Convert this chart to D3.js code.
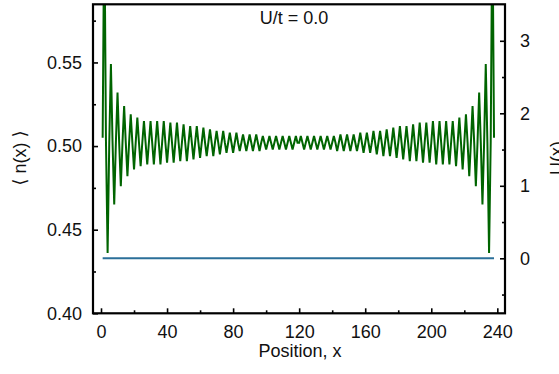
<!DOCTYPE html>
<html>
<head>
<meta charset="utf-8">
<script src="https://cdn.jsdelivr.net/npm/d3@7"></script>
<style>
  html, body { margin: 0; padding: 0; background: #fff; }
  svg { display: block; }
  text { font-family: "Liberation Sans", Arial, Helvetica, sans-serif; }
</style>
</head>
<body>
<svg id="chart" width="559" height="374"></svg>
<script>
// Site-resolved density <n(x)> on a 238-site open chain, U/t = 0
const siteCount = 238;
const density = [
  0.505, 0.642, 0.503, 0.436, 0.502, 0.549, 0.502, 0.465, 0.502, 0.532,
  0.502, 0.476, 0.502, 0.524, 0.502, 0.482, 0.502, 0.519, 0.502, 0.486,
  0.502, 0.517, 0.502, 0.488, 0.502, 0.515, 0.502, 0.489, 0.502, 0.515,
  0.502, 0.489, 0.502, 0.515, 0.502, 0.489, 0.502, 0.515, 0.502, 0.490,
  0.502, 0.514, 0.502, 0.490, 0.502, 0.514, 0.502, 0.491, 0.502, 0.513,
  0.502, 0.491, 0.502, 0.512, 0.502, 0.492, 0.502, 0.512, 0.502, 0.493,
  0.502, 0.511, 0.502, 0.494, 0.502, 0.510, 0.502, 0.494, 0.502, 0.509,
  0.502, 0.495, 0.502, 0.509, 0.502, 0.496, 0.502, 0.508, 0.502, 0.496,
  0.502, 0.508, 0.502, 0.497, 0.502, 0.507, 0.502, 0.497, 0.502, 0.507,
  0.502, 0.497, 0.502, 0.507, 0.502, 0.497, 0.502, 0.506, 0.502, 0.498,
  0.502, 0.506, 0.502, 0.498, 0.502, 0.506, 0.502, 0.498, 0.502, 0.506,
  0.502, 0.498, 0.502, 0.506, 0.502, 0.498, 0.502, 0.506, 0.502,
  0.502, 0.506, 0.502, 0.498, 0.502, 0.506, 0.502, 0.498, 0.502, 0.506,
  0.502, 0.498, 0.502, 0.506, 0.502, 0.498, 0.502, 0.506, 0.502, 0.498,
  0.502, 0.506, 0.502, 0.497, 0.502, 0.507, 0.502, 0.497, 0.502, 0.507,
  0.502, 0.497, 0.502, 0.507, 0.502, 0.497, 0.502, 0.508, 0.502, 0.496,
  0.502, 0.508, 0.502, 0.496, 0.502, 0.509, 0.502, 0.495, 0.502, 0.509,
  0.502, 0.494, 0.502, 0.510, 0.502, 0.494, 0.502, 0.511, 0.502, 0.493,
  0.502, 0.512, 0.502, 0.492, 0.502, 0.512, 0.502, 0.491, 0.502, 0.513,
  0.502, 0.491, 0.502, 0.514, 0.502, 0.490, 0.502, 0.514, 0.502, 0.490,
  0.502, 0.515, 0.502, 0.489, 0.502, 0.515, 0.502, 0.489, 0.502, 0.515,
  0.502, 0.489, 0.502, 0.515, 0.502, 0.488, 0.502, 0.517, 0.502, 0.486,
  0.502, 0.519, 0.502, 0.482, 0.502, 0.524, 0.502, 0.476, 0.502, 0.532,
  0.502, 0.465, 0.502, 0.549, 0.502, 0.436, 0.503, 0.642, 0.505
];
// External potential U(x): flat (zero) across the chain
const potentialX = [1, 238];
const potentialU = [0, 0];

// Axis ticks
const xTicks = [0, 40, 80, 120, 160, 200, 240];
const xMinorTicks = [20, 60, 100, 140, 180, 220];
const nTicks = [0.40, 0.45, 0.50, 0.55];
const nMinorTicks = [0.425, 0.475, 0.525, 0.575];
const uTicks = [0, 1, 2, 3];
const uMinorTicks = [-0.5, 0.5, 1.5, 2.5];

const title = "U/t = 0.0";
const xLabel = "Position, x";
const nLabel = "\u27E8 n(x) \u27E9";
const uLabel = "U(x)";

const frameLeft = 93, frameRight = 505, frameTop = 4.3, frameBottom = 313.3;
const fontSize = 18;

const svg = d3.select("#chart");

const x = d3.scaleLinear().domain([-4.85, 244.65]).range([frameLeft, frameRight]);
const yN = d3.scaleLinear().domain([0.40, 0.58477]).range([frameBottom, frameTop]);
const yU = d3.scaleLinear().domain([-0.7586, 3.5034]).range([frameBottom, frameTop]);

svg.append("defs").append("clipPath").attr("id", "plot-clip")
  .append("rect").attr("x", frameLeft).attr("y", frameTop)
  .attr("width", frameRight - frameLeft).attr("height", frameBottom - frameTop);

const plot = svg.append("g").attr("clip-path", "url(#plot-clip)");

// Potential (right axis)
const uPts = potentialX.map((d, i) => [d, potentialU[i]]);
plot.append("path")
  .datum(uPts)
  .attr("fill", "none")
  .attr("stroke", "#2b6f99")
  .attr("stroke-width", 2)
  .attr("d", d3.line().x(d => x(d[0])).y(d => yU(d[1])));

// Density (left axis)
const sites = d3.range(1, siteCount + 1);
plot.append("path")
  .datum(sites.map((s, i) => [s, density[i]]))
  .attr("fill", "none")
  .attr("stroke", "#006400")
  .attr("stroke-width", 2)
  .attr("stroke-linejoin", "miter")
  .attr("d", d3.line().x(d => x(d[0])).y(d => yN(d[1])));

function styleAxis(g) {
  g.select(".domain").remove();
  g.selectAll(".tick line").attr("stroke", "#000").attr("stroke-width", 1.6);
  g.selectAll(".tick text")
    .attr("fill", "#111")
    .style("font-size", fontSize + "px")
    .style("font-family", "'Liberation Sans', Arial, Helvetica, sans-serif");
}

// Bottom axis
svg.append("g").attr("transform", `translate(0,${frameBottom})`)
  .call(d3.axisBottom(x).tickValues(xTicks).tickFormat(d3.format("d"))
    .tickSizeInner(-5).tickSizeOuter(0).tickPadding(12))
  .call(styleAxis);
svg.append("g").attr("transform", `translate(0,${frameBottom})`)
  .call(d3.axisBottom(x).tickValues(xMinorTicks).tickFormat("")
    .tickSizeInner(-3).tickSizeOuter(0))
  .call(styleAxis);

// Left axis
svg.append("g").attr("transform", `translate(${frameLeft},0)`)
  .call(d3.axisLeft(yN).tickValues(nTicks).tickFormat(d3.format(".2f"))
    .tickSizeInner(-5).tickSizeOuter(0).tickPadding(11))
  .call(styleAxis);
svg.append("g").attr("transform", `translate(${frameLeft},0)`)
  .call(d3.axisLeft(yN).tickValues(nMinorTicks).tickFormat("")
    .tickSizeInner(-3).tickSizeOuter(0))
  .call(styleAxis);

// Right axis
svg.append("g").attr("transform", `translate(${frameRight},0)`)
  .call(d3.axisRight(yU).tickValues(uTicks).tickFormat(d3.format("d"))
    .tickSizeInner(-5).tickSizeOuter(0).tickPadding(15))
  .call(styleAxis);
svg.append("g").attr("transform", `translate(${frameRight},0)`)
  .call(d3.axisRight(yU).tickValues(uMinorTicks).tickFormat("")
    .tickSizeInner(-3).tickSizeOuter(0))
  .call(styleAxis);

// Frame
svg.append("rect")
  .attr("x", frameLeft).attr("y", frameTop)
  .attr("width", frameRight - frameLeft).attr("height", frameBottom - frameTop)
  .attr("fill", "none").attr("stroke", "#000").attr("stroke-width", 2.2);

// Titles and axis labels
svg.append("text")
  .attr("x", 294).attr("y", 24)
  .attr("text-anchor", "middle")
  .style("font-size", fontSize + "px")
  .attr("fill", "#111")
  .text(title);

svg.append("text")
  .attr("x", 300).attr("y", 357)
  .attr("text-anchor", "middle")
  .style("font-size", fontSize + "px")
  .attr("fill", "#111")
  .text(xLabel);

svg.append("text")
  .attr("transform", "translate(26,158) rotate(-90)")
  .attr("text-anchor", "middle")
  .style("font-size", fontSize + "px")
  .style("font-family", "'Liberation Sans', 'DejaVu Sans', sans-serif")
  .attr("fill", "#111")
  .text(nLabel);

svg.append("text")
  .attr("transform", "translate(563,158) rotate(-90)")
  .attr("text-anchor", "middle")
  .style("font-size", fontSize + "px")
  .attr("fill", "#111")
  .text(uLabel);
</script>
</body>
</html>
